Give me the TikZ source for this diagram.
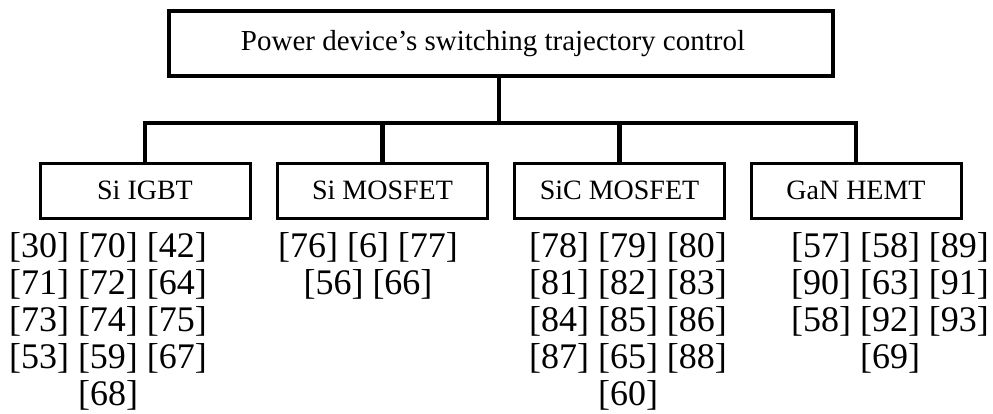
\documentclass[tikz,border=0pt]{standalone}
\usepackage{fontspec}
\setmainfont{Liberation Serif}
\begin{document}
\begin{tikzpicture}[x=1pt,y=-1pt,
  topbox/.style={draw, line width=4pt, minimum width=664pt, minimum height=65pt, inner sep=0pt, font=\fontsize{29}{34}\selectfont},
  devbox/.style={draw, line width=3pt, minimum width=210pt, minimum height=55pt, inner sep=0pt, font=\fontsize{28}{34}\selectfont},
  conn/.style={line width=4.5pt},
  refline/.style={anchor=base, inner sep=0pt, font=\fontsize{36}{37}\selectfont}]
\useasboundingbox (0,0) rectangle (993,413);
\node[topbox] (top) at (501,43.5) {Power device’s switching trajectory control\hspace*{16pt}};
\node[devbox] (igbt) at (145,190.5) {Si IGBT};
\node[devbox] (mos) at (382.5,190.5) {Si MOSFET};
\node[devbox] (sic) at (619.5,190.5) {SiC MOSFET};
\node[devbox] (gan) at (856,190.5) {GaN HEMT};
\coordinate (bar) at (499,123);
\draw[conn] ([xshift=-2pt]top.south) -- (bar);
\draw[conn] (igbt.north) -- (igbt.north |- bar) -- (gan.north |- bar) -- (gan.north);
\draw[conn] (mos.north) -- (mos.north |- bar);
\draw[conn] (sic.north) -- (sic.north |- bar);
% Si IGBT references
\node[refline] (i1) at (108,257) {[30] [70] [42]};
\node[refline] (i2) at (108,294) {[71] [72] [64]};
\node[refline] (i3) at (108,331) {[73] [74] [75]};
\node[refline] (i4) at (108,368) {[53] [59] [67]};
\node[refline] (i5) at (108,405) {[68]};
% Si MOSFET references
\node[refline] (m1) at (368,257) {[76] [6] [77]};
\node[refline] (m2) at (368,294) {[56] [66]};
% SiC MOSFET references
\node[refline] (s1) at (628,257) {[78] [79] [80]};
\node[refline] (s2) at (628,294) {[81] [82] [83]};
\node[refline] (s3) at (628,331) {[84] [85] [86]};
\node[refline] (s4) at (628,368) {[87] [65] [88]};
\node[refline] (s5) at (628,405) {[60]};
% GaN HEMT references
\node[refline] (g1) at (890,257) {[57] [58] [89]};
\node[refline] (g2) at (890,294) {[90] [63] [91]};
\node[refline] (g3) at (890,331) {[58] [92] [93]};
\node[refline] (g4) at (890,368) {[69]};
\end{tikzpicture}
\end{document}
